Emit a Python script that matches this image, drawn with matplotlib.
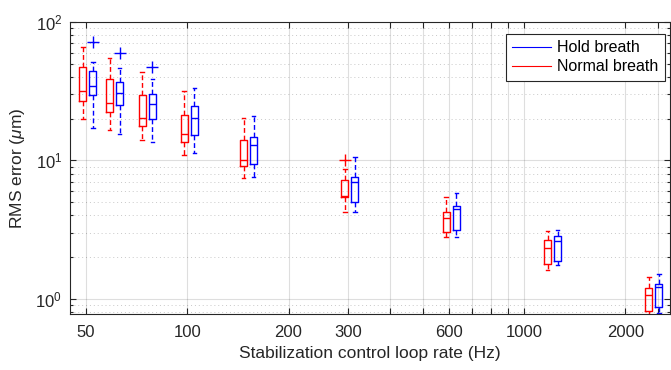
import matplotlib
matplotlib.use('Agg')
import matplotlib.pyplot as plt
from matplotlib.ticker import FixedLocator, FixedFormatter, LogLocator, NullFormatter

plt.rcParams['font.family'] = ['Liberation Sans', 'DejaVu Sans']
plt.rcParams['mathtext.fontset'] = 'custom'
plt.rcParams['mathtext.rm'] = 'Liberation Sans'
plt.rcParams['mathtext.it'] = 'Liberation Sans:italic'

# loop rates (Hz)
rates = [50, 60, 75, 100, 150, 300, 600, 1200, 2400]

# Normal breath: whisker low, q1, median, q3, whisker high (um)
normal_lo = [19.8, 16.6, 13.9, 11.0, 7.45, 4.21, 2.77, 1.62, 0.75]
normal_q1 = [26.8, 22.2, 17.7, 13.6, 9.14, 5.43, 3.03, 1.79, 0.81]
normal_med = [31.7, 25.8, 20.3, 15.5, 10.1, 5.55, 3.81, 2.33, 1.06]
normal_q3 = [47.5, 38.5, 29.5, 21.4, 14.0, 7.2, 4.25, 2.67, 1.19]
normal_hi = [66.3, 54.6, 43.5, 31.7, 20.1, 8.6, 5.45, 3.08, 1.44]
normal_out = [[], [], [], [], [], [10.0], [], [], []]

# Hold breath
hold_lo = [17.0, 15.5, 13.5, 11.2, 7.61, 4.23, 2.77, 1.74, 0.79]
hold_q1 = [29.7, 25.0, 19.8, 15.2, 9.45, 5.02, 3.12, 1.87, 0.87]
hold_med = [34.6, 30.8, 25.5, 20.1, 12.9, 7.0, 4.42, 2.60, 1.21]
hold_q3 = [44.4, 36.6, 30.0, 24.7, 14.7, 7.61, 4.67, 2.82, 1.28]
hold_hi = [51.6, 46.7, 38.5, 33.3, 21.0, 10.6, 5.83, 3.15, 1.51]
hold_out = [[72], [60], [47], [], [], [], [], [], []]

xtick_vals = [50, 100, 200, 300, 400, 500, 600, 700, 800, 900, 1000, 2000, 2500]
xtick_labels = ['50', '100', '200', '300', '', '', '600', '', '', '', '1000', '2000', '']


def make_stats(lo, q1, med, q3, hi, out):
    stats = []
    for i in range(len(lo)):
        stats.append({'whislo': lo[i], 'q1': q1[i], 'med': med[i], 'q3': q3[i],
                      'whishi': hi[i], 'fliers': out[i]})
    return stats


def draw(ax, stats, pos, color):
    widths = [p * 0.048 for p in pos]
    ax.bxp(stats, positions=pos, widths=widths, showfliers=True,
           boxprops=dict(color=color, linewidth=1.0),
           medianprops=dict(color=color, linewidth=1.0),
           whiskerprops=dict(color=color, linewidth=1.0, linestyle=(0, (3.5, 2))),
           capprops=dict(color=color, linewidth=1.0),
           flierprops=dict(marker='+', markeredgecolor=color, markersize=8,
                           markeredgewidth=1.0, linestyle='none'),
           capwidths=[p * 0.024 for p in pos],
           manage_ticks=False)


fig = plt.figure(figsize=(6.71, 3.70), dpi=100)
ax = fig.add_axes([0.105, 0.151, 0.893, 0.790])
ax.set_xscale('log')
ax.set_yscale('log')

red_pos = [r * 0.98 for r in rates]
blue_pos = [r * 1.05 for r in rates]
draw(ax, make_stats(normal_lo, normal_q1, normal_med, normal_q3, normal_hi, normal_out), red_pos, 'red')
draw(ax, make_stats(hold_lo, hold_q1, hold_med, hold_q3, hold_hi, hold_out), blue_pos, 'blue')

ax.set_xlim(45, 2710)
ax.set_ylim(0.774, 100)

ax.xaxis.set_major_locator(FixedLocator(xtick_vals))
ax.xaxis.set_major_formatter(FixedFormatter(xtick_labels))
ax.xaxis.set_minor_locator(FixedLocator([]))
ax.yaxis.set_major_locator(LogLocator(base=10))
ax.yaxis.set_minor_locator(LogLocator(base=10, subs=range(2, 10)))
ax.yaxis.set_minor_formatter(NullFormatter())

ax.grid(True, which='major', color='#262626', alpha=0.15, linewidth=0.8, linestyle='-')
ax.grid(True, which='minor', axis='y', color='#262626', alpha=0.25, linewidth=0.7, linestyle=(0, (1, 3)))
ax.set_axisbelow(True)

ax.tick_params(which='both', direction='in', top=True, right=True, colors='#262626',
               labelsize=12, width=0.8)
ax.tick_params(which='major', length=4)
ax.tick_params(which='minor', length=2.2)
ax.tick_params(axis='x', pad=8)
ax.tick_params(axis='y', pad=6)
for s in ax.spines.values():
    s.set_color('#262626')
    s.set_linewidth(0.8)

ax.set_xlabel('Stabilization control loop rate (Hz)', fontsize=12.5, color='#262626', labelpad=4)
ax.set_ylabel(r'RMS error ($\mu$m)', fontsize=12.5, color='#262626', labelpad=6)

h1, = ax.plot([], [], color='blue', linewidth=0.8, label='Hold breath')
h2, = ax.plot([], [], color='red', linewidth=0.8, label='Normal breath')
leg = ax.legend(handles=[h1, h2], loc='upper right', fontsize=11.5, fancybox=False,
                framealpha=1, edgecolor='#262626', bbox_to_anchor=(0.9915, 0.958),
                handlelength=2.45, handletextpad=0.35, borderpad=0.4, labelspacing=0.25,
                borderaxespad=0.0)
leg.get_frame().set_linewidth(0.8)

fig.savefig('out.png', dpi=100)
